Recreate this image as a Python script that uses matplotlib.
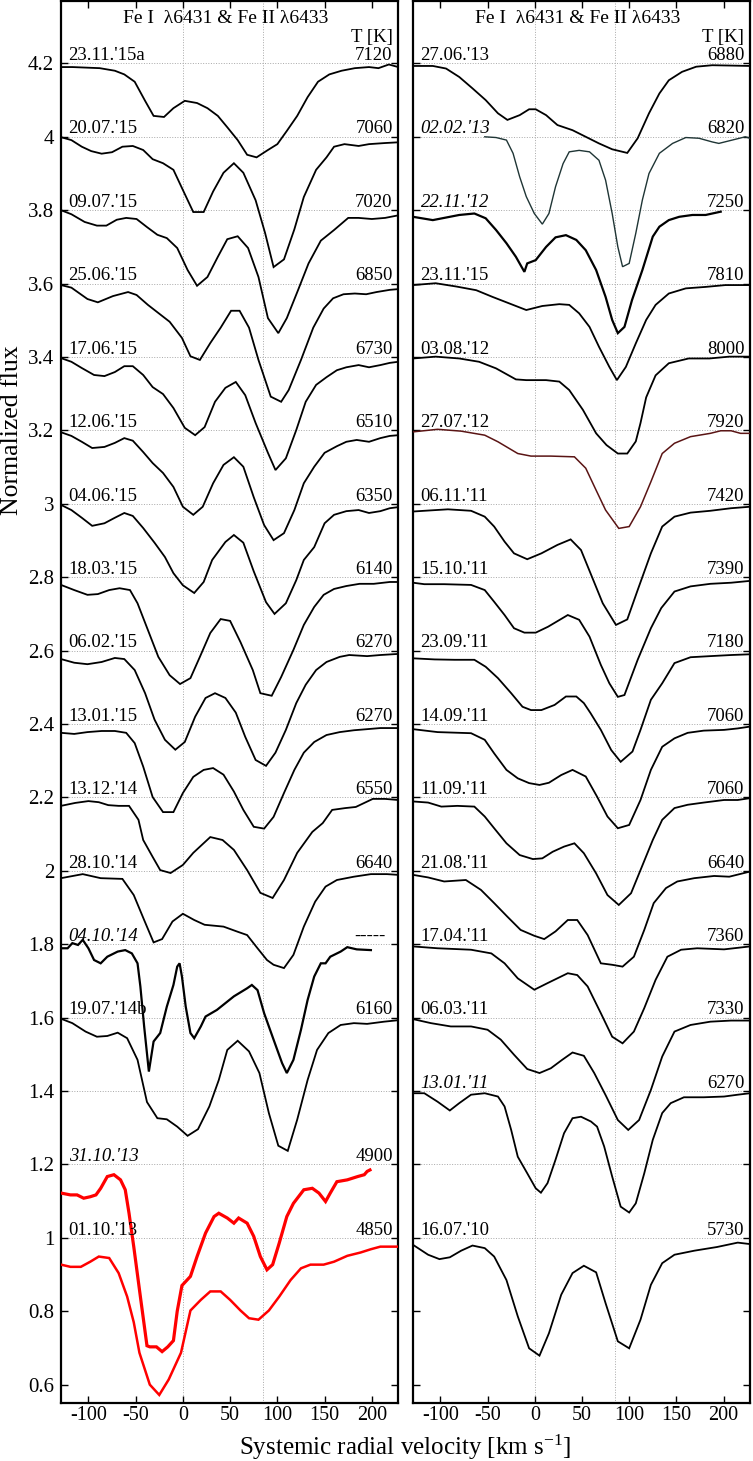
import numpy as np
import matplotlib
matplotlib.use("Agg")
import matplotlib.pyplot as plt
from matplotlib.ticker import FuncFormatter

plt.rcParams['font.family'] = ['Liberation Serif', 'DejaVu Serif']
plt.rcParams['mathtext.fontset'] = 'custom'
plt.rcParams['mathtext.rm'] = 'Liberation Serif'
plt.rcParams['mathtext.default'] = 'regular'
plt.rcParams['axes.unicode_minus'] = False

# ---------------- left panel (2013-2015) ----------------
v1 = [-129, -117, -88, -72, -62, -51, -40, -31, -20, -10, 2, 15, 26, 37, 47, 58, 68, 78, 90, 100, 110, 121, 132, 143, 155, 168, 182, 197, 207, 218, 228]
f1 = [4.19, 4.19, 4.187, 4.18, 4.17, 4.15, 4.098, 4.057, 4.054, 4.078, 4.098, 4.092, 4.078, 4.057, 4.026, 3.991, 3.951, 3.944, 3.964, 3.98, 4.016, 4.057, 4.108, 4.15, 4.17, 4.18, 4.187, 4.19, 4.187, 4.197, 4.19]
v2 = [-129, -118, -107, -97, -86, -75, -64, -53, -42, -32, -21, -10, 0, 11, 22, 32, 43, 54, 64, 77, 87, 96, 107, 118, 128, 141, 152, 160, 171, 186, 197, 214, 228]
f2 = [3.999, 3.991, 3.973, 3.961, 3.954, 3.958, 3.973, 3.975, 3.964, 3.939, 3.928, 3.91, 3.855, 3.795, 3.795, 3.851, 3.902, 3.928, 3.902, 3.827, 3.738, 3.645, 3.666, 3.748, 3.836, 3.91, 3.944, 3.973, 3.98, 3.975, 3.98, 3.983, 3.985]
v3 = [-129, -118, -104, -91, -81, -70, -60, -49, -38, -27, -17, -6, 5, 15, 26, 37, 47, 58, 69, 80, 90, 101, 110, 122, 133, 146, 160, 175, 186, 200, 214, 228]
f3 = [3.8, 3.789, 3.768, 3.758, 3.758, 3.774, 3.779, 3.776, 3.754, 3.733, 3.724, 3.697, 3.637, 3.594, 3.618, 3.673, 3.721, 3.729, 3.697, 3.618, 3.506, 3.465, 3.506, 3.583, 3.655, 3.717, 3.746, 3.779, 3.779, 3.776, 3.779, 3.786]
v4 = [-129, -118, -101, -90, -74, -58, -49, -37, -26, -14, -1, 8, 18, 29, 40, 51, 60, 70, 80, 93, 104, 112, 125, 138, 149, 159, 170, 182, 194, 205, 219, 228]
f4 = [3.596, 3.589, 3.558, 3.549, 3.566, 3.577, 3.569, 3.542, 3.52, 3.496, 3.452, 3.402, 3.392, 3.438, 3.48, 3.526, 3.526, 3.48, 3.392, 3.292, 3.278, 3.31, 3.392, 3.48, 3.532, 3.56, 3.571, 3.573, 3.571, 3.577, 3.583, 3.585]
v5 = [-129, -118, -107, -94, -83, -72, -62, -53, -42, -32, -21, -10, 2, 13, 23, 34, 45, 56, 66, 77, 90, 98, 109, 120, 130, 141, 152, 163, 173, 186, 197, 209, 219, 228]
f5 = [3.397, 3.387, 3.37, 3.351, 3.348, 3.359, 3.375, 3.375, 3.351, 3.318, 3.299, 3.261, 3.207, 3.187, 3.209, 3.278, 3.316, 3.332, 3.296, 3.22, 3.139, 3.092, 3.124, 3.201, 3.278, 3.324, 3.345, 3.364, 3.372, 3.378, 3.372, 3.378, 3.384, 3.387]
v6 = [-129, -118, -107, -96, -83, -72, -62, -53, -42, -32, -21, -10, 0, 11, 21, 32, 43, 54, 64, 75, 86, 96, 107, 118, 128, 139, 150, 163, 173, 184, 197, 209, 219, 228]
f6 = [3.195, 3.185, 3.169, 3.152, 3.155, 3.166, 3.179, 3.172, 3.141, 3.111, 3.084, 3.046, 2.992, 2.97, 2.992, 3.056, 3.106, 3.127, 3.101, 3.018, 2.942, 2.901, 2.92, 2.983, 3.056, 3.101, 3.139, 3.157, 3.169, 3.174, 3.169, 3.179, 3.185, 3.187]
v7 = [-129, -118, -107, -96, -83, -72, -62, -53, -42, -30, -19, -10, 0, 12, 22, 31, 45, 54, 64, 75, 88, 97, 109, 120, 128, 139, 150, 160, 173, 186, 197, 209, 219, 228]
f7 = [2.997, 2.983, 2.962, 2.94, 2.947, 2.962, 2.975, 2.967, 2.934, 2.894, 2.855, 2.811, 2.778, 2.757, 2.787, 2.847, 2.896, 2.915, 2.894, 2.816, 2.732, 2.7, 2.729, 2.792, 2.847, 2.882, 2.947, 2.97, 2.98, 2.983, 2.975, 2.98, 2.988, 2.991]
v8 = [-129, -115, -101, -90, -78, -67, -56, -48, -37, -26, -14, -3, 8, 18, 29, 40, 50, 61, 74, 82, 94, 104, 117, 128, 139, 149, 160, 173, 187, 202, 219, 228]
f8 = [2.779, 2.765, 2.752, 2.754, 2.765, 2.77, 2.765, 2.729, 2.656, 2.583, 2.533, 2.509, 2.525, 2.583, 2.648, 2.686, 2.681, 2.623, 2.547, 2.484, 2.477, 2.528, 2.602, 2.67, 2.719, 2.752, 2.768, 2.776, 2.782, 2.782, 2.787, 2.787]
v9 = [-129, -115, -101, -86, -72, -62, -51, -40, -30, -19, -8, 2, 13, 24, 34, 45, 56, 66, 77, 88, 98, 109, 120, 130, 141, 152, 166, 176, 195, 209, 228]
f9 = [2.577, 2.567, 2.563, 2.569, 2.58, 2.577, 2.547, 2.484, 2.412, 2.357, 2.33, 2.351, 2.42, 2.471, 2.484, 2.471, 2.431, 2.365, 2.302, 2.286, 2.322, 2.384, 2.457, 2.507, 2.547, 2.569, 2.583, 2.588, 2.585, 2.588, 2.591]
v10 = [-129, -115, -101, -86, -72, -60, -51, -42, -32, -21, -10, 0, 11, 22, 32, 43, 54, 64, 75, 86, 96, 107, 118, 128, 139, 152, 166, 181, 195, 209, 228]
f10 = [2.376, 2.373, 2.378, 2.381, 2.381, 2.376, 2.348, 2.284, 2.201, 2.16, 2.16, 2.212, 2.256, 2.275, 2.28, 2.262, 2.216, 2.166, 2.12, 2.115, 2.147, 2.212, 2.275, 2.322, 2.351, 2.37, 2.378, 2.383, 2.386, 2.389, 2.389]
v11 = [-129, -114, -100, -89, -79, -68, -57, -47, -42, -32, -24, -13, 0, 11, 29, 42, 54, 68, 82, 95, 107, 121, 137, 148, 158, 172, 183, 201, 214, 228]
f11 = [2.177, 2.185, 2.19, 2.187, 2.179, 2.177, 2.177, 2.139, 2.084, 2.038, 2.002, 1.994, 2.016, 2.049, 2.092, 2.084, 2.057, 2.002, 1.94, 1.926, 1.975, 2.049, 2.106, 2.13, 2.166, 2.171, 2.174, 2.196, 2.196, 2.193]
v12 = [-129, -106, -87, -64, -52, -41, -31, -22, -11, 0, 12, 23, 43, 58, 68, 79, 89, 96, 107, 117, 128, 140, 151, 163, 181, 199, 216, 228]
f12 = [1.98, 1.991, 1.98, 1.978, 1.934, 1.866, 1.805, 1.814, 1.862, 1.883, 1.866, 1.853, 1.848, 1.834, 1.825, 1.789, 1.757, 1.744, 1.735, 1.771, 1.848, 1.916, 1.957, 1.975, 1.984, 1.991, 1.991, 1.989]
v13 = [-129, -122, -117, -111, -106, -100, -94, -87, -80, -69, -61, -54, -48, -45, -41, -36, -31, -24, -17, -10, -6, -3.5, -1, 3, 8, 12, 19, 24, 36, 54, 68, 73, 79, 86, 96, 105, 110, 117, 125, 132, 139, 146, 151, 156, 167, 174, 184, 199]
f13 = [1.789, 1.789, 1.803, 1.798, 1.812, 1.789, 1.757, 1.748, 1.766, 1.78, 1.784, 1.775, 1.748, 1.685, 1.576, 1.453, 1.535, 1.558, 1.63, 1.689, 1.739, 1.748, 1.712, 1.63, 1.558, 1.544, 1.576, 1.603, 1.621, 1.658, 1.68, 1.689, 1.675, 1.612, 1.54, 1.476, 1.449, 1.485, 1.567, 1.648, 1.712, 1.748, 1.748, 1.766, 1.78, 1.792, 1.786, 1.784]
v14 = [-129, -117, -103, -91, -80, -69, -59, -48, -38, -27, -17, -6, 5, 16, 28, 38, 47, 58, 70, 81, 91, 101, 111, 121, 132, 142, 154, 167, 181, 195, 213, 228]
f14 = [1.597, 1.585, 1.562, 1.548, 1.55, 1.559, 1.544, 1.485, 1.37, 1.326, 1.323, 1.303, 1.278, 1.296, 1.358, 1.43, 1.512, 1.537, 1.508, 1.449, 1.34, 1.251, 1.237, 1.322, 1.43, 1.512, 1.558, 1.58, 1.585, 1.583, 1.589, 1.593]
v15 = [-129, -119, -112, -105, -98, -92, -87, -80, -73, -66, -61, -57, -52, -45, -38, -35, -28, -22, -16, -10, -6, -1, 8, 15, 24, 33, 38, 47, 54, 59, 68, 75, 82, 89, 95, 102, 110, 117, 128, 137, 144, 151, 156, 163, 174, 185, 192, 195, 198]
f15 = [1.122, 1.117, 1.117, 1.108, 1.112, 1.117, 1.135, 1.167, 1.172, 1.158, 1.131, 1.067, 0.976, 0.84, 0.706, 0.703, 0.703, 0.69, 0.703, 0.72, 0.8, 0.87, 0.895, 0.949, 1.013, 1.058, 1.067, 1.054, 1.04, 1.054, 1.04, 1.004, 0.949, 0.913, 0.927, 0.986, 1.058, 1.094, 1.131, 1.135, 1.122, 1.099, 1.122, 1.153, 1.158, 1.167, 1.172, 1.181, 1.185]
v16 = [-129, -119, -108, -98, -89, -78, -68, -59, -52, -46, -35, -25, -15, -2, 8, 19, 29, 40, 50, 61, 70, 80, 91, 102, 114, 125, 135, 149, 160, 174, 188, 199, 209, 228]
f16 = [0.927, 0.921, 0.921, 0.935, 0.949, 0.945, 0.904, 0.84, 0.77, 0.687, 0.6, 0.572, 0.614, 0.687, 0.802, 0.831, 0.854, 0.854, 0.831, 0.802, 0.781, 0.777, 0.802, 0.84, 0.885, 0.917, 0.927, 0.927, 0.935, 0.951, 0.96, 0.969, 0.976, 0.976]

left_dates = ["23.11.'15a", "20.07.'15", "09.07.'15", "25.06.'15", "17.06.'15", "12.06.'15",
              "04.06.'15", "18.03.'15", "06.02.'15", "13.01.'15", "13.12.'14", "28.10.'14",
              "04.10.'14", "19.07.'14b", "31.10.'13", "01.10.'13"]
left_temps = ["7120", "7060", "7020", "6850", "6730", "6510", "6350", "6140", "6270", "6270",
              "6550", "6640", "-----", "6160", "4900", "4850"]
left_levels = [4.2, 4.0, 3.8, 3.6, 3.4, 3.2, 3.0, 2.8, 2.6, 2.4, 2.2, 2.0, 1.8, 1.6, 1.2, 1.0]
left_italic = ["04.10.'14", "31.10.'13"]

# ---------------- right panel (2010-2015) ----------------
r1 = [-129, -108, -94, -80, -66, -52, -39, -29, -16, -6, 1, 12, 24, 40, 54, 68, 82, 98, 109, 121, 132, 142, 156, 171, 188, 209, 228]
g1 = [4.193, 4.193, 4.186, 4.163, 4.132, 4.1, 4.064, 4.046, 4.059, 4.075, 4.075, 4.059, 4.032, 4.018, 4.0, 3.982, 3.966, 3.956, 3.996, 4.064, 4.118, 4.154, 4.177, 4.191, 4.195, 4.194, 4.193]
r2 = [-53, -41, -30, -23, -16, -9, -0.5, 8, 15, 22, 30, 36.5, 47, 58, 68, 75, 82, 88, 93, 100, 107, 114, 121, 132, 146, 160, 174, 188, 195, 209, 223, 228]
g2 = [4.0, 3.998, 3.991, 3.955, 3.891, 3.837, 3.791, 3.762, 3.791, 3.864, 3.927, 3.959, 3.963, 3.959, 3.936, 3.882, 3.791, 3.7, 3.646, 3.655, 3.737, 3.828, 3.9, 3.955, 3.982, 3.998, 3.996, 3.986, 3.982, 3.991, 4.0, 3.996]
r3 = [-129, -108, -94, -80, -64, -52, -41, -30, -20, -11, -8, 1, 12, 22, 33, 44, 54, 65, 75, 82, 88, 95, 103, 114, 125, 132, 142, 153, 167, 181, 197]
g3 = [3.782, 3.773, 3.78, 3.787, 3.791, 3.778, 3.746, 3.71, 3.673, 3.632, 3.655, 3.664, 3.7, 3.726, 3.732, 3.719, 3.691, 3.637, 3.564, 3.501, 3.465, 3.482, 3.555, 3.637, 3.728, 3.755, 3.773, 3.782, 3.787, 3.787, 3.796]
r4 = [-129, -105, -83, -62, -45, -23, -9, 8, 26, 36.5, 47, 58, 68, 79, 87, 96.5, 107, 118, 128, 142, 160, 181, 202, 228]
g4 = [3.596, 3.601, 3.592, 3.582, 3.564, 3.542, 3.528, 3.539, 3.544, 3.542, 3.519, 3.482, 3.428, 3.373, 3.337, 3.373, 3.437, 3.501, 3.542, 3.573, 3.587, 3.591, 3.596, 3.596]
r5 = [-129, -105, -80, -59, -41, -20, -9, 12, 26, 36.5, 51, 65, 76, 88, 98, 107, 112, 118, 128, 142, 163, 185, 206, 228]
g5 = [3.396, 3.401, 3.396, 3.387, 3.369, 3.339, 3.337, 3.337, 3.333, 3.31, 3.256, 3.192, 3.16, 3.137, 3.137, 3.17, 3.22, 3.29, 3.35, 3.383, 3.396, 3.396, 3.401, 3.401]
r6 = [-129, -103, -78, -53, -39, -18, -4, 17, 42, 54, 65, 75, 89, 100, 112, 123, 135, 148, 165, 186, 197, 208, 218, 228]
g6 = [3.196, 3.203, 3.198, 3.187, 3.169, 3.137, 3.13, 3.13, 3.128, 3.097, 3.037, 2.983, 2.933, 2.938, 2.992, 3.06, 3.137, 3.165, 3.183, 3.192, 3.199, 3.199, 3.192, 3.192]
r7 = [-129, -117, -92, -67.5, -53, -43, -32, -22, -8, 7, 24, 38, 49, 59, 72, 86, 98, 109, 123, 135, 148, 165, 186, 208, 228]
g7 = [2.979, 2.981, 2.985, 2.981, 2.965, 2.938, 2.897, 2.865, 2.849, 2.865, 2.888, 2.903, 2.874, 2.811, 2.729, 2.67, 2.685, 2.765, 2.865, 2.938, 2.965, 2.976, 2.981, 2.988, 2.992]
r8 = [-129, -117, -96, -67.5, -53, -43, -32, -22, -11, 1, 14, 35, 47, 58, 70, 79, 88, 95, 109, 123, 134, 148, 165, 186, 208, 228]
g8 = [2.785, 2.781, 2.781, 2.779, 2.765, 2.733, 2.697, 2.661, 2.649, 2.649, 2.665, 2.697, 2.684, 2.638, 2.561, 2.511, 2.474, 2.479, 2.575, 2.661, 2.716, 2.761, 2.775, 2.782, 2.785, 2.79]
r9 = [-129, -106, -85, -64, -52, -39, -25, -13, -4, 7, 21, 33, 44, 52, 59, 70, 81, 91, 103.5, 112, 123, 135, 148, 165, 186, 208, 228]
g9 = [2.579, 2.576, 2.575, 2.575, 2.556, 2.525, 2.484, 2.447, 2.438, 2.438, 2.452, 2.475, 2.475, 2.457, 2.43, 2.384, 2.329, 2.297, 2.325, 2.384, 2.466, 2.511, 2.566, 2.582, 2.585, 2.588, 2.59]
r10 = [-129, -103, -67.5, -53, -43, -30, -18, -6, 5, 15, 28, 40, 54, 66, 77, 88, 100, 112, 123, 135, 148, 162, 179, 200.5, 215, 228]
g10 = [2.386, 2.378, 2.375, 2.357, 2.32, 2.275, 2.252, 2.239, 2.234, 2.24, 2.261, 2.275, 2.257, 2.202, 2.148, 2.116, 2.125, 2.193, 2.275, 2.338, 2.361, 2.376, 2.382, 2.384, 2.388, 2.393]
r11 = [-129, -113, -99, -82, -64, -53, -43, -30, -16, -2, 8, 19, 31, 42, 52, 65, 77, 89, 102, 112, 125, 135, 148, 162, 179, 200.5, 215, 228]
g11 = [2.189, 2.186, 2.175, 2.177, 2.175, 2.148, 2.116, 2.075, 2.043, 2.032, 2.034, 2.052, 2.066, 2.075, 2.048, 1.993, 1.934, 1.907, 1.939, 2.002, 2.084, 2.139, 2.171, 2.18, 2.186, 2.193, 2.193, 2.198]
r12 = [-129, -113, -96, -73, -57, -43, -29, -15, -0.5, 10, 22, 35, 45, 56, 70, 82, 93, 105, 116, 126, 139, 151, 169, 190, 206, 228]
g12 = [1.989, 1.982, 1.971, 1.975, 1.948, 1.912, 1.875, 1.839, 1.823, 1.814, 1.835, 1.866, 1.866, 1.825, 1.748, 1.744, 1.739, 1.766, 1.839, 1.912, 1.953, 1.971, 1.98, 1.986, 1.984, 1.998]
r13 = [-129, -103, -67.5, -46, -32, -18, -0.5, 13.5, 35, 45, 56, 70, 82, 93, 105, 116, 128, 140.5, 155, 172, 200.5, 228]
g13 = [1.794, 1.789, 1.785, 1.775, 1.748, 1.707, 1.676, 1.694, 1.721, 1.716, 1.685, 1.612, 1.548, 1.53, 1.562, 1.626, 1.703, 1.766, 1.785, 1.789, 1.786, 1.794]
r14 = [-129, -110, -89, -67.5, -50, -36, -22, -8, 5, 17, 29, 40, 52, 63, 75, 88, 99, 110.5, 123, 135, 148, 165, 186, 208, 228]
g14 = [1.596, 1.585, 1.576, 1.576, 1.567, 1.54, 1.499, 1.46, 1.449, 1.462, 1.485, 1.505, 1.496, 1.449, 1.389, 1.321, 1.294, 1.321, 1.403, 1.494, 1.562, 1.58, 1.589, 1.592, 1.592]
r15 = [-129, -117, -103, -90, -80, -67.5, -53, -39, -32, -25, -18, -8, 1, 6.5, 13.5, 22, 31, 40, 49, 59.5, 66, 73.5, 82, 91, 100, 107, 116, 125, 135, 144, 158, 179, 200.5, 215, 228]
g15 = [1.394, 1.394, 1.371, 1.347, 1.367, 1.39, 1.394, 1.385, 1.358, 1.294, 1.221, 1.176, 1.135, 1.123, 1.149, 1.213, 1.285, 1.326, 1.33, 1.317, 1.303, 1.249, 1.167, 1.085, 1.069, 1.094, 1.176, 1.267, 1.34, 1.367, 1.383, 1.383, 1.385, 1.39, 1.394]
r16 = [-129, -113, -101, -90, -78, -66, -53, -43, -30, -18, -6, 5, 15, 28, 40, 52, 65, 75, 88, 100, 112, 123, 135, 148, 169, 193, 215, 228]
g16 = [0.981, 0.954, 0.942, 0.947, 0.965, 0.979, 0.972, 0.949, 0.885, 0.786, 0.699, 0.679, 0.74, 0.845, 0.904, 0.924, 0.906, 0.822, 0.718, 0.699, 0.777, 0.872, 0.931, 0.954, 0.965, 0.975, 0.987, 0.983]

right_dates = ["27.06.'13", "02.02.'13", "22.11.'12", "23.11.'15", "03.08.'12", "27.07.'12",
               "06.11.'11", "15.10.'11", "23.09.'11", "14.09.'11", "11.09.'11", "21.08.'11",
               "17.04.'11", "06.03.'11", "13.01.'11", "16.07.'10"]
right_temps = ["6880", "6820", "7250", "7810", "8000", "7920", "7420", "7390", "7180", "7060",
               "7060", "6640", "7360", "7330", "6270", "5730"]
right_levels = [4.2, 4.0, 3.8, 3.6, 3.4, 3.2, 3.0, 2.8, 2.6, 2.4, 2.2, 2.0, 1.8, 1.6, 1.4, 1.0]
right_italic = ["02.02.'13", "22.11.'12", "13.01.'11"]

left_v = [v1, v2, v3, v4, v5, v6, v7, v8, v9, v10, v11, v12, v13, v14, v15, v16]
left_f = [f1, f2, f3, f4, f5, f6, f7, f8, f9, f10, f11, f12, f13, f14, f15, f16]
right_v = [r1, r2, r3, r4, r5, r6, r7, r8, r9, r10, r11, r12, r13, r14, r15, r16]
right_f = [g1, g2, g3, g4, g5, g6, g7, g8, g9, g10, g11, g12, g13, g14, g15, g16]

# line styles for the few special spectra
special = {
    "04.10.'14": dict(color='black', lw=1.6),
    "31.10.'13": dict(color='#ff0000', lw=2.3),
    "01.10.'13": dict(color='#ff0000', lw=1.8),
    "02.02.'13": dict(color='#1f3535', lw=1.0),
    "22.11.'12": dict(color='black', lw=1.6),
    "27.07.'12": dict(color='#5a1414', lw=1.1),
}

W, H = 753, 1461
fig = plt.figure(figsize=(W / 100, H / 100), dpi=100)
bottom = 1 - 1403 / H
height = 1402 / H
axL = fig.add_axes([61 / W, bottom, 337.3 / W, height])
axR = fig.add_axes([413 / W, bottom, 337 / W, height])

fs = 13.5
for ax, vs, fl, dates, temps, levels, ital in [
        (axL, left_v, left_f, left_dates, left_temps, left_levels, left_italic),
        (axR, right_v, right_f, right_dates, right_temps, right_levels, right_italic)]:
    ax.set_xlim(-129, 228)
    ax.set_ylim(0.55, 4.37)
    for yy in np.arange(1.0, 4.21, 0.2):
        ax.axhline(yy, color='#a8a8a8', lw=0.7, ls=':', zorder=0)
    ax.axvline(0, color='#a8a8a8', lw=0.7, ls=':', zorder=0)
    ax.axvline(85, color='#a8a8a8', lw=0.7, ls=':', zorder=0)

    for v, f, d, t, lev in zip(vs, fl, dates, temps, levels):
        st = special.get(d, dict(color='black', lw=1.3))
        ax.plot(v, f, zorder=3, solid_joinstyle='miter', **st)
        style = 'italic' if d in ital else 'normal'
        ax.text(-121, lev + 0.009, d, fontsize=fs, style=style, ha='left', va='baseline')
        tx = 214 if t == "-----" else 222
        ax.text(tx, lev + 0.009, t, fontsize=fs, ha='right', va='baseline')

    ax.text(45, 4.311, "Fe I  \u03bb6431 & Fe II \u03bb6433", fontsize=14, ha='center', va='baseline')
    ax.text(222, 4.259, "T [K]", fontsize=fs, ha='right', va='baseline')

    ax.set_xticks([-100, -50, 0, 50, 100, 150, 200])
    ax.set_yticks(np.round(np.arange(0.6, 4.21, 0.2), 1))
    ax.yaxis.set_major_formatter(FuncFormatter(lambda val, p: '%g' % round(val, 2)))
    ax.tick_params(direction='in', top=True, right=True, length=5, width=1.0,
                   labelsize=15, pad=5)
    ax.tick_params(axis='x', labelsize=14.5, pad=2)
    for s in ax.spines.values():
        s.set_linewidth(1.6)

axR.tick_params(labelleft=False)

fig.text(12 / W, 1 - 430 / H, "Normalized flux", rotation=90, fontsize=18.5,
         ha='center', va='center')
fig.text(405.5 / W, 1 - 1455 / H, "Systemic radial velocity [km s$^{-1}$]", fontsize=18,
         ha='center', va='baseline')

fig.savefig("out.png", dpi=100)
